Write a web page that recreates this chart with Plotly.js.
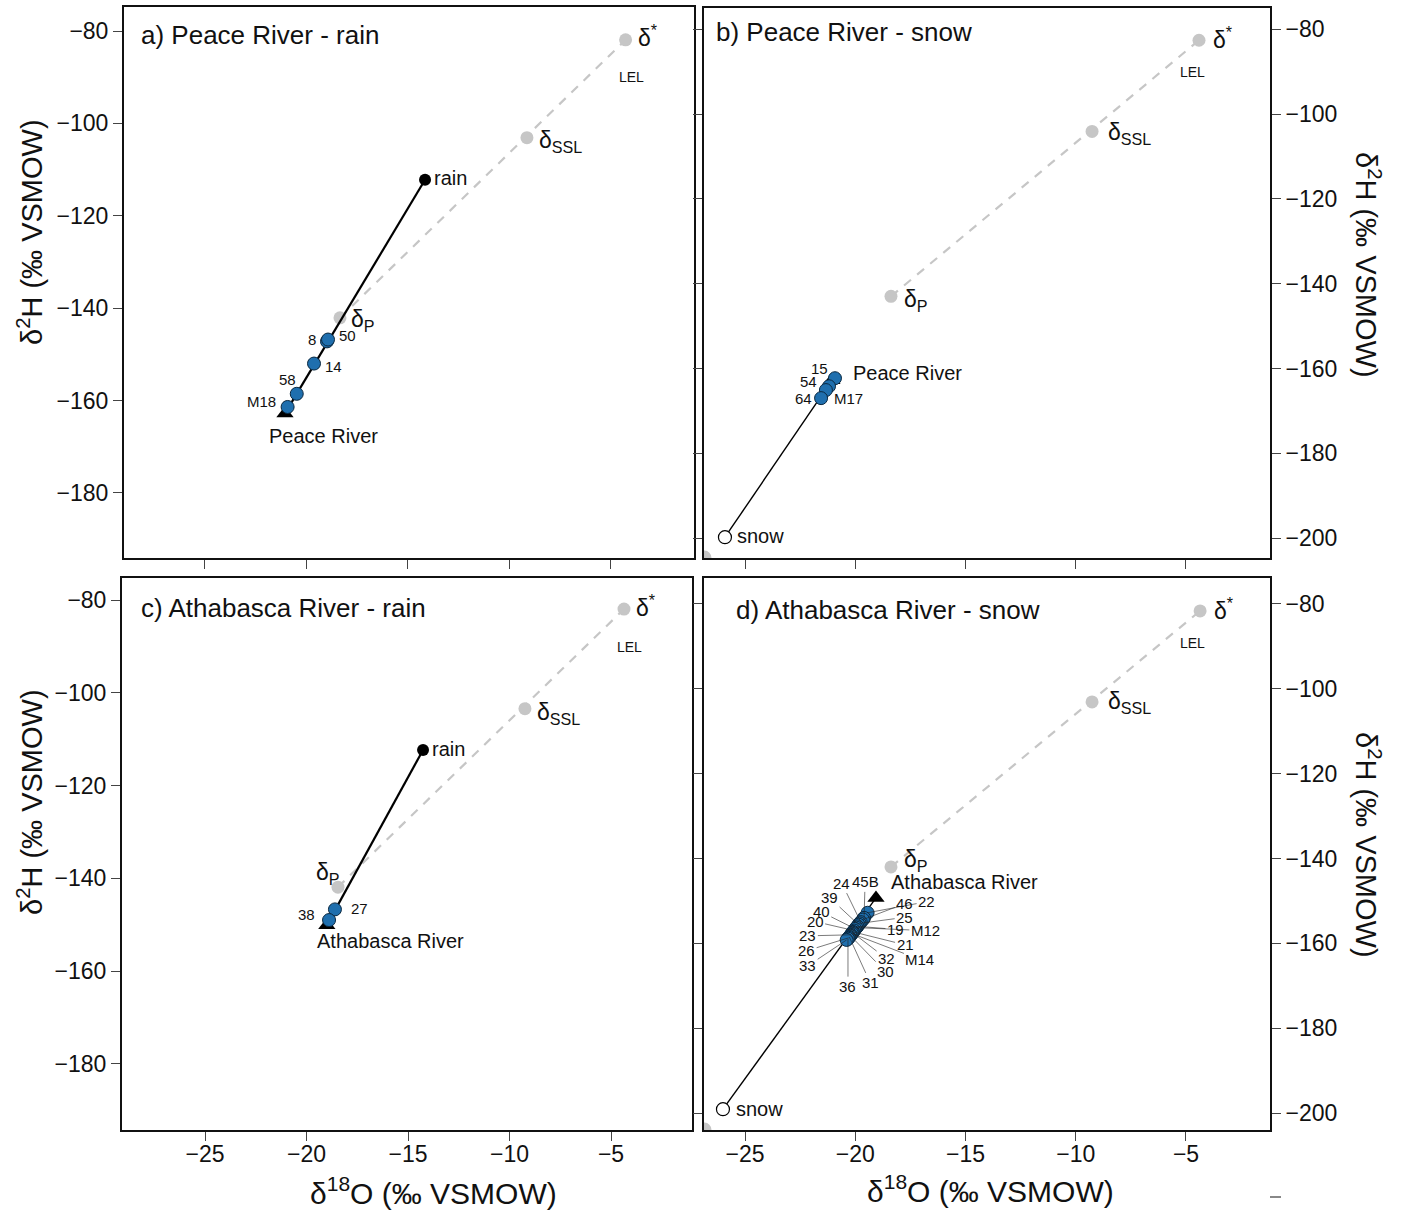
<!DOCTYPE html>
<html>
<head>
<meta charset="utf-8">
<script src="https://cdn.plot.ly/plotly-3.0.1.min.js"></script>
<style>html,body{margin:0;padding:0;background:#fff;}#chart{width:1403px;height:1214px;}</style>
</head>
<body>
<div id="chart"></div>
<script>
// ---------------- DATA ----------------
const refNames = ['δ*', 'δSSL', 'δP'];

// (a) Peace River - rain
const aRefX = [-4.28, -9.14, -18.35];
const aRefY = [-81.9, -103.1, -142.1];
const aRainX = [-14.16];
const aRainY = [-112.2];
const aRiverX = [-21.06];
const aRiverY = [-162.8];
const aSampleIds = ['8', '50', '14', '58', 'M18'];
const aSampleX = [-18.99, -18.94, -19.63, -20.48, -20.93];
const aSampleY = [-147.2, -146.8, -152.0, -158.55, -161.4];

// (b) Peace River - snow
const bRefX = [-4.41, -9.26, -18.38];
const bRefY = [-82.6, -104.1, -143.0];
const bSnowX = [-25.91];
const bSnowY = [-199.8];
const bRiverX = [-21.06];
const bRiverY = [-162.8];
const bSampleIds = ['15', '54', 'M17', '64'];
const bSampleX = [-20.92, -21.19, -21.33, -21.55];
const bSampleY = [-162.3, -164.2, -165.1, -167.0];
const bOffX = [-26.84];
const bOffY = [-204.6];

// (c) Athabasca River - rain
const cRefX = [-4.36, -9.24, -18.45];
const cRefY = [-81.9, -103.4, -141.9];
const cRainX = [-14.26];
const cRainY = [-112.3];
const cRiverX = [-19.0];
const cRiverY = [-150.1];
const cSampleIds = ['27', '38'];
const cSampleX = [-18.6, -18.89];
const cSampleY = [-146.7, -149.0];

// (d) Athabasca River - snow
const dRefX = [-4.36, -9.26, -18.38];
const dRefY = [-81.65, -103.1, -142.0];
const dSnowX = [-26.0];
const dSnowY = [-199.1];
const dRiverX = [-19.06];
const dRiverY = [-149.3];
const dSampleIds = ['22','45B','46','24','25','39','19','M12','40','20','21','32','M14','23','30','31','26','36','33'];
const dSampleX = [-19.44,-19.6,-19.65,-19.75,-19.8,-19.85,-19.9,-19.95,-20.0,-20.05,-20.1,-20.12,-20.15,-20.2,-20.22,-20.27,-20.3,-20.33,-20.39];
const dSampleY = [-152.8,-154.0,-154.4,-155.0,-155.3,-155.6,-156.0,-156.3,-156.6,-157.0,-157.3,-157.5,-157.7,-158.0,-158.2,-158.5,-158.7,-158.9,-159.2];
const dOffX = [-26.84];
const dOffY = [-203.9];

// tick values
const yTicksLeft = [-80, -100, -120, -140, -160, -180];
const yTicksRight = [-80, -100, -120, -140, -160, -180, -200];
const xTicks = [-25, -20, -15, -10, -5];

const panelTitles = ['a) Peace River - rain', 'b) Peace River - snow', 'c) Athabasca River - rain', 'd) Athabasca River - snow'];
const yTitle = 'δ<sup>2</sup>H (‰ VSMOW)';
const xTitle = 'δ<sup>18</sup>O (‰ VSMOW)';

// ---------------- STYLE / LAYOUT ----------------
const W = 1403, H = 1214;
const FONT = 'Liberation Sans, Arial, sans-serif';
const GREY = '#c6c6c6';
const BLUE = '#1f6fae';
const px = v => v / W;
const py = v => 1 - v / H;

const traces = [];
function addPanel(xa, ya, refX, refY, endX, endY, isSnow, riverX, riverY, sX, sY, offX, offY) {
  const base = {xaxis: xa, yaxis: ya, showlegend: false, hoverinfo: 'skip'};
  traces.push(Object.assign({}, base, {type: 'scatter', mode: 'lines',
    x: [refX[2], refX[0]], y: [refY[2], refY[0]],
    line: {color: GREY, width: 2.2, dash: '9px,8px'}}));
  traces.push(Object.assign({}, base, {type: 'scatter', mode: 'markers', x: refX, y: refY,
    marker: {color: GREY, size: 13}}));
  if (offX) traces.push(Object.assign({}, base, {type: 'scatter', mode: 'markers', x: offX, y: offY,
    marker: {color: GREY, size: 14}}));
  traces.push(Object.assign({}, base, {type: 'scatter', mode: 'lines',
    x: [endX[0], riverX[0]], y: [endY[0], riverY[0]],
    line: {color: '#000', width: isSnow ? 1.4 : 2.2}}));
  traces.push(Object.assign({}, base, {type: 'scatter', mode: 'markers', x: riverX, y: riverY,
    marker: {color: '#000', size: 15, symbol: 'triangle-up'}}));
  traces.push(Object.assign({}, base, {type: 'scatter', mode: 'markers', x: sX, y: sY,
    marker: {color: BLUE, size: 13, line: {color: '#0a2840', width: 1}}}));
  traces.push(Object.assign({}, base, {type: 'scatter', mode: 'markers', x: endX, y: endY,
    marker: isSnow ? {color: '#fff', size: 13, line: {color: '#000', width: 1.2}}
                   : {color: '#000', size: 12}}));
}
addPanel('x', 'y', aRefX, aRefY, aRainX, aRainY, false, aRiverX, aRiverY, aSampleX, aSampleY);
addPanel('x2', 'y2', bRefX, bRefY, bSnowX, bSnowY, true, bRiverX, bRiverY, bSampleX, bSampleY, bOffX, bOffY);
addPanel('x3', 'y3', cRefX, cRefY, cRainX, cRainY, false, cRiverX, cRiverY, cSampleX, cSampleY);
addPanel('x4', 'y4', dRefX, dRefY, dSnowX, dSnowY, true, dRiverX, dRiverY, dSampleX, dSampleY, dOffX, dOffY);

const tickFont = {family: FONT, size: 23, color: '#111'};
function xAxis(dom, range, anchor, labels) {
  return {domain: [px(dom[0]), px(dom[1])], range: range, anchor: anchor,
    tickvals: xTicks, ticks: 'outside', ticklen: 9, tickwidth: 1, tickcolor: '#444',
    showticklabels: labels, tickfont: tickFont, ticklabelstandoff: -7,
    showgrid: false, zeroline: false,
    showline: true, mirror: true, linecolor: '#111', linewidth: 2};
}
function yAxis(dom, range, anchor, side, vals, mirror) {
  return {domain: [py(dom[1]), py(dom[0])], range: range, anchor: anchor, side: side,
    tickvals: vals, ticks: 'outside', ticklen: 9, tickwidth: 1, tickcolor: '#444',
    tickfont: tickFont, showgrid: false, zeroline: false,
    showline: true, mirror: mirror, linecolor: '#111', linewidth: 2};
}

const annotations = [];
function lab(xref, yref, x, y, text, xs, ys, xanchor, size) {
  annotations.push({xref: xref, yref: yref, x: x, y: y, text: text, showarrow: false,
    xshift: xs, yshift: ys, xanchor: xanchor || 'left', yanchor: 'middle',
    font: {family: FONT, size: size || 15, color: '#111'}});
}
function refLabels(xr, yr, rx, ry, off) {
  lab(xr, yr, rx[0], ry[0], 'δ<sup>*</sup>', off[0][0], off[0][1], 'left', 23);
  lab(xr, yr, rx[0], ry[0], 'LEL', off[1][0], off[1][1], 'center', 14);
  lab(xr, yr, rx[1], ry[1], 'δ<sub>SSL</sub>', off[2][0], off[2][1], 'left', 23);
  lab(xr, yr, rx[2], ry[2], 'δ<sub>P</sub>', off[3][0], off[3][1], off[3][2] || 'left', 23);
}
// panel a
refLabels('x', 'y', aRefX, aRefY, [[10, 4], [6, -37], [10, -4], [9, -3]]);
lab('x', 'y', aRainX[0], aRainY[0], 'rain', 7, 2, 'left', 20);
lab('x', 'y', aRiverX[0], aRiverY[0], 'Peace River', 39, -23, 'center', 20);
const aOff = [[-9, 2, 'right'], [9, 4, 'left'], [9, -3, 'left'], [-9, 14, 'center'], [-10, 5, 'right']];
aSampleIds.forEach((t, i) => lab('x', 'y', aSampleX[i], aSampleY[i], t, aOff[i][0], aOff[i][1], aOff[i][2], 15));
// panel b
refLabels('x2', 'y2', bRefX, bRefY, [[12, 2], [-7, -32], [14, -2], [11, -4]]);
lab('x2', 'y2', bSnowX[0], bSnowY[0], 'snow', 10, 1, 'left', 20);
lab('x2', 'y2', bRiverX[0], bRiverY[0], 'Peace River', 19, 7, 'left', 20);
const bOff = [[-15, 10, 'center'], [-21, 5, 'center'], [6, -8, 'left'], [-18, 0, 'center']];
bSampleIds.forEach((t, i) => lab('x2', 'y2', bSampleX[i], bSampleY[i], t, bOff[i][0], bOff[i][1], bOff[i][2], 15));
// panel c
refLabels('x3', 'y3', cRefX, cRefY, [[10, 3], [5, -38], [10, -5], [-10, 14, 'center']]);
lab('x3', 'y3', cRainX[0], cRainY[0], 'rain', 7, 1, 'left', 20);
lab('x3', 'y3', cRiverX[0], cRiverY[0], 'Athabasca River', 64, -16, 'center', 20);
const cOff = [[14, 1, 'left'], [-12, 6, 'right']];
cSampleIds.forEach((t, i) => lab('x3', 'y3', cSampleX[i], cSampleY[i], t, cOff[i][0], cOff[i][1], cOff[i][2], 15));
// panel d
refLabels('x4', 'y4', dRefX, dRefY, [[12, 2], [-8, -32], [14, -1], [11, 6]]);
lab('x4', 'y4', dSnowX[0], dSnowY[0], 'snow', 11, 0, 'left', 20);
lab('x4', 'y4', dRiverX[0], dRiverY[0], 'Athabasca River', 13, 16, 'left', 20);
const dLeader = [[59,-11],[1,-36],[42,-16],[-19,-39],[45,-6],[-29,-27],[38,3],[69,3],[-34,-17],[-39,-9],[52,13],[34,26],[68,26],[-43,1],[35,36],[21,46],[-42,13],[0,48],[-39,26]];
dSampleIds.forEach((t, i) => {
  annotations.push({xref: 'x4', yref: 'y4', x: dSampleX[i], y: dSampleY[i], text: t,
    showarrow: true, arrowhead: 0, arrowwidth: 0.6, arrowcolor: '#222', standoff: 0,
    ax: dLeader[i][0], ay: dLeader[i][1], axref: 'pixel', ayref: 'pixel',
    font: {family: FONT, size: 15, color: '#111'}});
});
// panel titles
const titlePos = [[139, 35], [714, 32], [139, 608], [734, 610]];
panelTitles.forEach((t, i) => annotations.push({xref: 'paper', yref: 'paper',
  x: px(titlePos[i][0]), y: py(titlePos[i][1]), text: t, showarrow: false,
  xanchor: 'left', yanchor: 'middle', font: {family: FONT, size: 26, color: '#111'}}));
// axis titles
[[30, 232, -90], [30, 802, -90], [1368, 265, 90], [1368, 845, 90]].forEach(p => annotations.push({
  xref: 'paper', yref: 'paper', x: px(p[0]), y: py(p[1]), text: yTitle, textangle: p[2],
  showarrow: false, xanchor: 'center', yanchor: 'middle', font: {family: FONT, size: 29, color: '#111'}}));
[[433, 1191], [990, 1189]].forEach(p => annotations.push({
  xref: 'paper', yref: 'paper', x: px(p[0]), y: py(p[1]), text: xTitle,
  showarrow: false, xanchor: 'center', yanchor: 'middle', font: {family: FONT, size: 30, color: '#111'}}));

const layout = {
  width: W, height: H, margin: {l: 0, r: 0, t: 0, b: 0},
  paper_bgcolor: '#fff', plot_bgcolor: '#fff', showlegend: false,
  font: {family: FONT, color: '#111'},
  xaxis: xAxis([124, 694], [-28.99, -0.91], 'y', false),
  yaxis: yAxis([7, 558], [-194.1, -74.8], 'x', 'left', yTicksLeft, true),
  xaxis2: xAxis([704, 1270], [-26.86, -1.19], 'y2', false),
  yaxis2: yAxis([8, 558], [-204.7, -75.0], 'x2', 'right', yTicksRight, 'allticks'),
  xaxis3: xAxis([122, 692], [-29.09, -1.01], 'y3', true),
  yaxis3: yAxis([578, 1130], [-194.3, -75.2], 'x3', 'left', yTicksLeft, true),
  xaxis4: xAxis([704, 1270], [-26.86, -1.19], 'y4', true),
  yaxis4: yAxis([578, 1130], [-204.0, -73.9], 'x4', 'right', yTicksRight, 'allticks'),
  annotations: annotations,
  shapes: [{type: 'line', xref: 'paper', yref: 'paper', x0: px(1270), x1: px(1281), y0: py(1197), y1: py(1197),
    line: {color: '#888', width: 2}}]
};

Plotly.newPlot('chart', traces, layout, {staticPlot: true, displayModeBar: false});
</script>
</body>
</html>
